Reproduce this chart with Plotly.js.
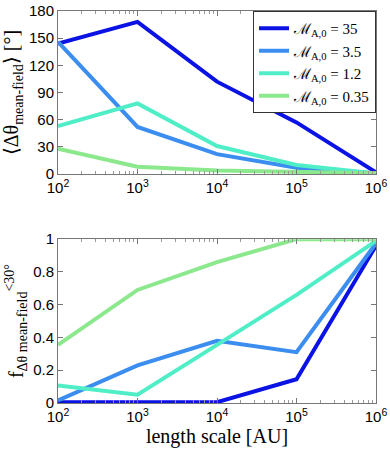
<!DOCTYPE html>
<html>
<head>
<meta charset="utf-8">
<script src="https://cdn.plot.ly/plotly-3.0.1.min.js"></script>
<style>
  body { margin: 0; background: #fff; }
  #chart { width: 390px; height: 453px; }
</style>
</head>
<body>
<div id="chart"></div>
<script>
// escalas de longitud (AU)
const lengthScale = [1e2, 1e3, 1e4, 1e5, 1e6];
const xTickText = ['10<sup>2</sup>', '10<sup>3</sup>', '10<sup>4</sup>', '10<sup>5</sup>', '10<sup>6</sup>'];

// nombres y colores de las series
const seriesNames = ['35', '3.5', '1.2', '0.35'];
const seriesColors = ['#0b12e4', '#3b8ef0', '#50eec6', '#8ce88c'];

// <Δθ mean-field> en grados
const meanAngle35 = [144, 168, 102, 57, 2];
const meanAngle3_5 = [146, 52, 22, 7, 1];
const meanAngle1_2 = [53, 78, 31, 10, 0.5];
const meanAngle0_35 = [28, 8, 4, 3, 1];

// fracción con Δθ < 30°
const frac35 = [0.005, 0.005, 0.005, 0.145, 0.96];
const frac3_5 = [0.015, 0.23, 0.38, 0.31, 0.975];
const frac1_2 = [0.107, 0.05, 0.355, 0.66, 0.99];
const frac0_35 = [0.355, 0.69, 0.86, 1.0, 1.0];

const topData = [meanAngle35, meanAngle3_5, meanAngle1_2, meanAngle0_35];
const bottomData = [frac35, frac3_5, frac1_2, frac0_35];

const traces = [];
topData.forEach((ys, i) => {
    traces.push({
        x: lengthScale, y: ys, type: 'scatter', mode: 'lines',
        name: 'ℳ<sub>A,0</sub> = ' + seriesNames[i],
        line: { color: seriesColors[i], width: 4 },
        xaxis: 'x', yaxis: 'y'
    });
});
bottomData.forEach((ys, i) => {
    traces.push({
        x: lengthScale, y: ys, type: 'scatter', mode: 'lines',
        showlegend: false,
        line: { color: seriesColors[i], width: 4 },
        xaxis: 'x2', yaxis: 'y2'
    });
});

const tickFont = { family: 'Liberation Sans, Arial, sans-serif', size: 15, color: '#000' };
const titleFont = { family: 'Liberation Serif, Times New Roman, serif', size: 20, color: '#000' };

const xBase = {
    type: 'log', range: [2, 6], tickvals: lengthScale, ticktext: xTickText,
    showgrid: false, zeroline: false,
    showline: true, linecolor: '#777', linewidth: 1, mirror: 'allticks',
    ticks: 'inside', ticklen: 5, tickcolor: '#777',
    minor: { dtick: 'D1', ticks: 'inside', ticklen: 3, tickcolor: '#999', showgrid: false },
    tickfont: tickFont
};
const yBase = {
    showgrid: false, zeroline: false,
    showline: true, linecolor: '#777', linewidth: 1, mirror: 'allticks',
    ticks: 'inside', ticklen: 5, tickcolor: '#777',
    tickfont: tickFont
};

const layout = {
    width: 390, height: 453,
    margin: { l: 58, r: 14, t: 11, b: 50 },
    paper_bgcolor: '#fff', plot_bgcolor: '#fff',
    showlegend: true,
    legend: {
        x: 1, y: 1, xanchor: 'right', yanchor: 'top',
        bgcolor: '#fff', bordercolor: '#333', borderwidth: 1,
        font: { family: 'Liberation Serif, Times New Roman, serif', size: 15, color: '#000' },
        tracegroupgap: 0, itemwidth: 30
    },
    xaxis: Object.assign({}, xBase, { anchor: 'y' }),
    yaxis: Object.assign({}, yBase, {
        domain: [0.584, 1], range: [0, 180], dtick: 30, anchor: 'x',
        title: { text: '⟨Δθ<sub>mean-field</sub>⟩ [°]', font: titleFont, standoff: 4 }
    }),
    xaxis2: Object.assign({}, xBase, {
        anchor: 'y2',
        title: { text: 'length scale [AU]', font: titleFont, standoff: 0 }
    }),
    yaxis2: Object.assign({}, yBase, {
        domain: [0, 0.418], range: [0, 1], tickvals: [0, 0.2, 0.4, 0.6, 0.8, 1],
        ticktext: ['0', '0.2', '0.4', '0.6', '0.8', '1'], anchor: 'x2',
        title: { text: 'f<sub>Δθ mean-field</sub><sup><30°</sup>', font: titleFont, standoff: 4 }
    })
};

Plotly.newPlot('chart', traces, layout, { displayModeBar: false, staticPlot: true });
</script>
</body>
</html>
